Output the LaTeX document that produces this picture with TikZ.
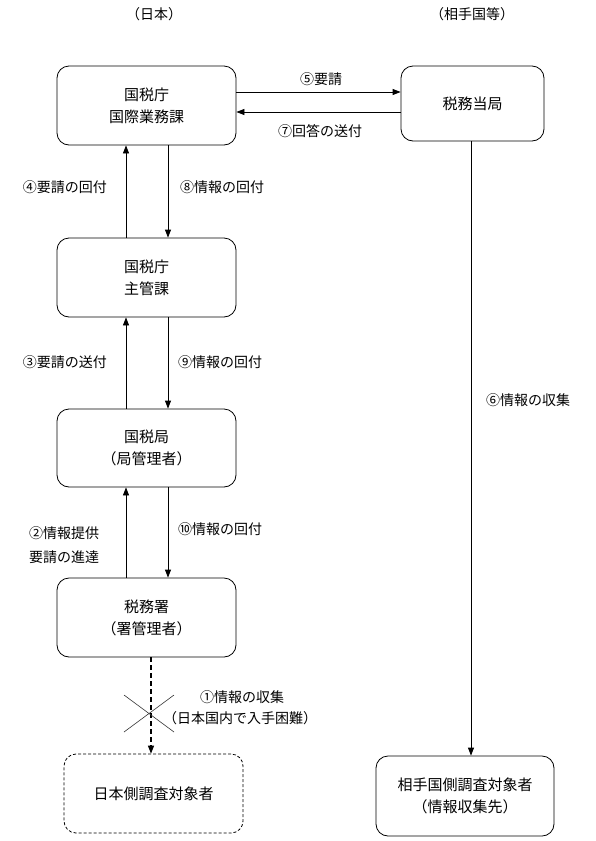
\documentclass[tikz,border=0pt]{standalone}
\usepackage{fontspec}
\setmainfont{Noto Sans CJK JP}
\usetikzlibrary{arrows.meta}
\begin{document}
\begin{tikzpicture}[x=1pt,y=-1pt,
  box/.style={draw, line width=0.8pt, rounded corners=12pt, minimum width=179pt, minimum height=79pt,
    align=center, font=\fontsize{15}{22}\selectfont, inner sep=0pt},
  lbl/.style={font=\fontsize{14}{24}\selectfont, inner sep=0pt},
  arr/.style={-{Triangle[length=8pt,width=6pt]}, line width=0.8pt},
  dasharr/.style={arr, line width=1.1pt, dash pattern=on 5pt off 3pt},
  crossline/.style={line width=0.6pt, draw=black!80}]
\useasboundingbox (0,0) rectangle (596,841);
% headers
\node[lbl] (hjp) at (154,14) {（日本）};
\node[lbl] (hfo) at (472,14) {（相手国等）};
% boxes
\node[box] (b1) at (146.5,105.5) {国税庁\\国際業務課};
\node[box] (b2) at (146.5,277.5) {国税庁\\主管課};
\node[box, minimum height=78pt] (b3) at (146.5,448) {国税局\\（局管理者）};
\node[box] (b4) at (146.5,617.5) {税務署\\（署管理者）};
\node[box, dash pattern=on 3pt off 2pt] (b5) at (153.5,793.5) {日本側調査対象者};
\node[box, minimum width=143pt, minimum height=75pt] (r1) at (472.5,103.5) {税務当局};
\node[box, minimum width=178pt, minimum height=80pt] (r2) at (465,796) {相手国側調査対象者\\（情報収集先）};
% horizontal arrows
\draw[arr] ([yshift=11.5pt]b1.east |- r1.center) -- ([yshift=11.5pt]r1.west);
\draw[arr] ([yshift=-8.5pt]r1.west) -- ([yshift=-8.5pt]b1.east |- r1.center);
\node[lbl] (l5) at (321,79) {⑤要請};
\node[lbl] (l7) at (320,131) {⑦回答の送付};
% vertical arrows left column
\draw[arr] ([xshift=-20.5pt]b2.north) -- ([xshift=-20.5pt]b1.south);
\draw[arr] ([xshift=21.5pt]b1.south) -- ([xshift=21.5pt]b2.north);
\draw[arr] ([xshift=-20.5pt]b3.north) -- ([xshift=-20.5pt]b2.south);
\draw[arr] ([xshift=21.5pt]b2.south) -- ([xshift=21.5pt]b3.north);
\draw[arr] ([xshift=-20.5pt]b4.north) -- ([xshift=-20.5pt]b3.south);
\draw[arr] ([xshift=21.5pt]b3.south) -- ([xshift=21.5pt]b4.north);
\node[lbl] (l4) at (65,187) {④要請の回付};
\node[lbl] (l8) at (222,187) {⑧情報の回付};
\node[lbl] (l3) at (65,362) {③要請の送付};
\node[lbl] (l9) at (220,362) {⑨情報の回付};
\node[lbl, anchor=west, align=left] (l2) at (29,545) {②情報提供\\要請の進達};
\node[lbl] (l10) at (220,529) {⑩情報の回付};
% right column
\draw[arr] ([xshift=-1.5pt]r1.south) -- ([xshift=-1.5pt]r1.south |- r2.north);
\node[lbl] (l6) at (528,400) {⑥情報の収集};
% dashed arrow and cross
\draw[dasharr] ([xshift=4.5pt]b4.south) -- ([xshift=4.5pt]b4.south |- b5.north);
\coordinate (xc) at (149,713.5);
\draw[crossline] ([xshift=-25pt,yshift=18.5pt]xc) -- ([xshift=25pt,yshift=-18.5pt]xc);
\draw[crossline] ([xshift=25pt,yshift=18.5pt]xc) -- ([xshift=-25pt,yshift=-18.5pt]xc);
\node[lbl] (l1) at (242,697) {①情報の収集};
\node[lbl] (l1b) at (240,718) {（日本国内で入手困難）};
\end{tikzpicture}
\end{document}
